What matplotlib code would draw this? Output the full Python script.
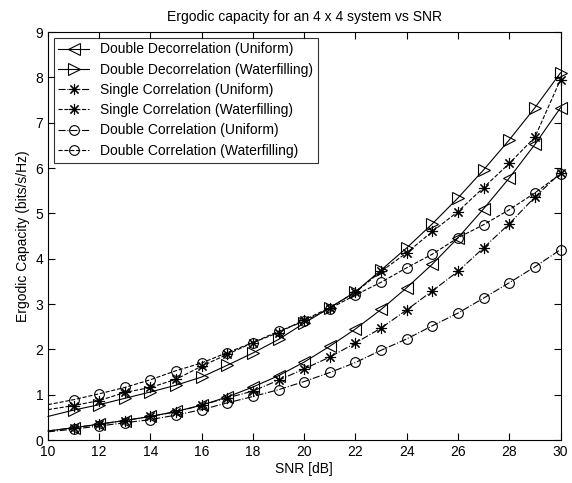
import matplotlib
matplotlib.use("Agg")
import matplotlib.pyplot as plt

plt.rcParams['font.family'] = ['Liberation Sans', 'DejaVu Sans']

# SNR in dB
snr = list(range(10, 31))

# ergodic capacity (bits/s/Hz)
dd_uni = [0.20, 0.27, 0.35, 0.43, 0.52, 0.63, 0.77, 0.95, 1.17, 1.42, 1.72,
          2.07, 2.45, 2.88, 3.36, 3.88, 4.46, 5.10, 5.78, 6.52, 7.33]
dd_wf = [0.52, 0.66, 0.78, 0.92, 1.06, 1.21, 1.39, 1.65, 1.92, 2.22, 2.58,
         2.92, 3.27, 3.75, 4.24, 4.77, 5.34, 5.96, 6.62, 7.33, 8.10]
sc_uni = [0.20, 0.27, 0.35, 0.43, 0.52, 0.62, 0.77, 0.93, 1.08, 1.32, 1.57,
          1.83, 2.14, 2.47, 2.87, 3.29, 3.72, 4.24, 4.77, 5.36, 5.89]
sc_wf = [0.67, 0.76, 0.87, 1.05, 1.16, 1.34, 1.63, 1.89, 2.15, 2.37, 2.65,
         2.92, 3.26, 3.72, 4.13, 4.60, 5.04, 5.57, 6.10, 6.68, 7.95]
dc_uni = [0.18, 0.24, 0.31, 0.38, 0.45, 0.55, 0.67, 0.82, 0.96, 1.11, 1.29,
          1.49, 1.71, 1.98, 2.23, 2.52, 2.80, 3.13, 3.47, 3.82, 4.20]
dc_wf = [0.78, 0.89, 1.02, 1.16, 1.33, 1.53, 1.70, 1.93, 2.15, 2.40, 2.62,
         2.90, 3.20, 3.48, 3.80, 4.10, 4.46, 4.75, 5.08, 5.45, 5.87]

labels = ["Double Decorrelation (Uniform)",
          "Double Decorrelation (Waterfilling)",
          "Single Correlation (Uniform)",
          "Single Correlation (Waterfilling)",
          "Double Correlation (Uniform)",
          "Double Correlation (Waterfilling)"]

fig = plt.figure(figsize=(5.72, 4.83), dpi=100)
ax = fig.add_axes([0.0839, 0.089, 0.896, 0.8447])

common = dict(color="black", lw=0.8, markevery=slice(1, None), clip_on=False,
              markerfacecolor="none", markeredgewidth=0.8)
asterisk = (8, 2, 0)

ax.plot(snr, dd_uni, "-", marker="<", ms=8, label=labels[0], **common)
ax.plot(snr, dd_wf, "-", marker=">", ms=8, label=labels[1], **common)
ax.plot(snr, sc_uni, "-.", marker=asterisk, ms=8, label=labels[2], **common)
ax.plot(snr, sc_wf, "--", marker=asterisk, ms=8, label=labels[3], **common)
ax.plot(snr, dc_uni, "-.", marker="o", ms=7, label=labels[4], **common)
ax.plot(snr, dc_wf, "--", marker="o", ms=7, label=labels[5], **common)

ax.set_xlim(10, 30)
ax.set_ylim(0, 9)
ax.set_xticks(range(10, 31, 2))
ax.set_yticks(range(0, 10))
ax.tick_params(direction="in", top=True, right=True, labelsize=10, length=5)
ax.set_title("Ergodic capacity for an 4 x 4 system vs SNR", fontsize=10, pad=8)
ax.set_xlabel("SNR [dB]", fontsize=10, labelpad=2)
ax.set_ylabel("Ergodic Capacity (bits/s/Hz)", fontsize=10, labelpad=4)

leg = ax.legend(loc="upper left", fontsize=10, handlelength=2.2,
                fancybox=False, edgecolor="black", borderaxespad=0.4,
                labelspacing=0.45, borderpad=0.35)
leg.get_frame().set_linewidth(0.8)

fig.savefig("out.png", dpi=100)
